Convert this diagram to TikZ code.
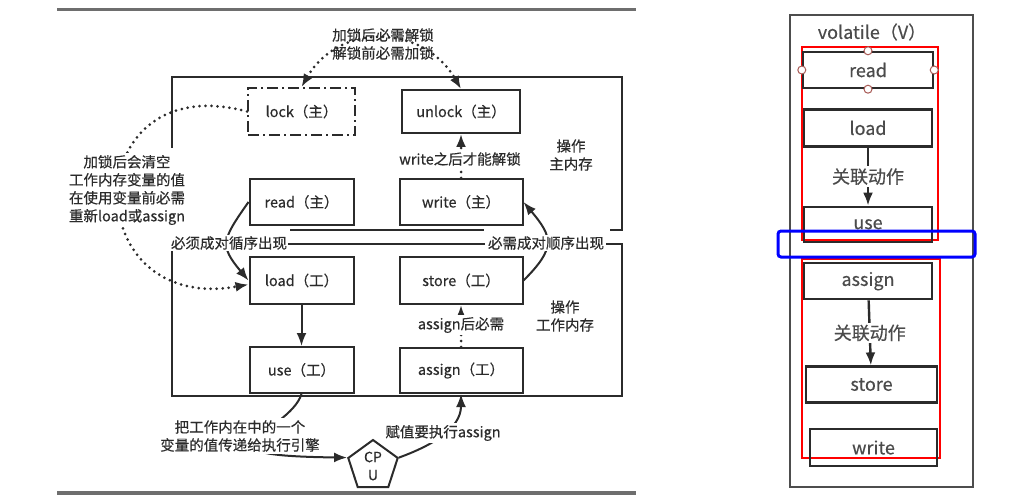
\documentclass[tikz,border=0pt]{standalone}
\usepackage{fontspec}
\setmainfont{Noto Sans CJK SC}[FakeBold=0.4]
\usepackage{xcolor}
\usetikzlibrary{arrows.meta,positioning,shapes.geometric}
\definecolor{ink}{HTML}{2B2B2B}
\definecolor{rule}{HTML}{6E6E6E}
\definecolor{handle}{HTML}{A85A55}

\begin{document}
\begin{tikzpicture}[
  x=1pt, y=1pt,
  font=\fontsize{14.5}{18}\selectfont, >={Latex[length=13pt,width=10pt]},
  box/.style={draw=ink, line width=2pt, text=ink, inner sep=0pt, minimum height=46pt},
  lcol/.style={box, minimum width=104pt},
  rcol/.style={box, minimum width=123pt},
  lbl/.style={fill=white, text=ink, inner sep=2pt, align=center},
  link/.style={draw=ink, line width=2pt},
  dots/.style={draw=ink, line width=3pt, line cap=round, dash pattern=on 0pt off 6pt},
  vbox/.style={draw=ink, line width=2.4pt, text=ink!85, inner sep=0pt, minimum width=128pt, minimum height=36pt, font=\fontsize{18}{22}\selectfont},
]
\useasboundingbox (0,0) rectangle (1035,496);

% left: page rules and the two memory frames
\draw[rule, line width=3pt] (57,486) -- (636,486);
\draw[rule, line width=4pt] (57,3) -- (636,3);
\draw[link] (172,348) -- (172,419) -- (622,419) -- (622,266) -- (610,266);
\draw[link] (290,266) -- (484,266);
\draw[link] (172,246) -- (172,100) -- (622,100) -- (622,252) -- (606,252);
\draw[link] (288,252) -- (485,252);

% operations
\node[lcol, dash pattern=on 11pt off 4pt on 2pt off 4pt, minimum width=107pt, minimum height=47pt] (lock) at (301.5,384.5) {lock（主）};
\node[rcol, minimum width=118pt, minimum height=43pt, right=45pt of lock] (unlock) {unlock（主）};
\node[lcol, below=42pt of lock] (read) {read（主）};
\node[rcol, below=44pt of unlock] (write) {write（主）};
\node[lcol, minimum height=47pt, below=30pt of read] (load) {load（工）};
\node[rcol, minimum height=47pt, below=30pt of write] (store) {store（工）};
\node[lcol, below=41pt of load] (use) {use（工）};
\node[rcol, minimum height=45pt, below=42pt of store] (assign) {assign（工）};
\node[draw=ink, line width=2pt, regular polygon, regular polygon sides=5, minimum size=52pt, inner sep=0pt, align=center, text=ink, font=\fontsize{14}{18}\selectfont] (cpu) at (373,30) {CP\\U};

\draw[dots, <->] (lock.north) to[out=60, in=120, looseness=1.2] (unlock.north);
\draw[dots, ->] (lock.west) to[out=165, in=190, looseness=2.6] ([yshift=-4pt]load.west);
\draw[link, ->] (read.west) to[out=235, in=130, looseness=1.5] (load.west);
\draw[link, ->] (store.east) to[out=45, in=-50, looseness=1.5] (write.east);
\draw[dots, ->] (write.north) -- (unlock.south);
\draw[dots, ->] (assign.north) -- (store.south);
\draw[link, ->] (load) -- (use);
\draw[link, ->] (use.south) .. controls +(-12,-39) and +(-168,2) .. (cpu.corner 2);
\draw[link, ->] (cpu.corner 5) to[out=20, in=-90] (assign.south);

\node[lbl, fill=none] (lockmsg) at (383,452) {加锁后必需解锁\\解锁前必需加锁};
\node[lbl] (clearmsg) at (127,306) {加锁后会清空\\工作内存变量的值\\在使用变量前必需\\重新load或assign};
\node[lbl] (wmsg) at (460,337) {write之后才能解锁};
\node[lbl] (amsg) at (461,171) {assign后必需};
\node[lbl, fill=none] (mainop) at (571,341) {操作\\主内存};
\node[lbl, fill=none] (workop) at (565,180) {操作\\工作内存};
\node[lbl, inner sep=1pt] (pairL) at (229,253) {必须成对循序出现};
\node[lbl, inner sep=1pt] (pairR) at (546,253) {必需成对顺序出现};
\node[lbl] (usemsg) at (240,60) {把工作内在中的一个\\变量的值传递给执行引擎};
\node[lbl] (cpumsg) at (443,63) {赋值要执行assign};

% right: volatile
\draw[draw=rule!70!black, line width=2.5pt] (790,481) rectangle (973,9);
\node[text=ink!85, font=\fontsize{18}{22}\selectfont] (vtitle) at (872,464) {volatile（V）};
\draw[red, line width=1.3pt] (802,449) rectangle (938,256);
\draw[red, line width=1.3pt] (802,237) rectangle (940,38);

\node[vbox, minimum width=130pt] (vread) at (868,426) {read};
\node[vbox, minimum height=37pt, below=19pt of vread] (vload) {load};
\node[vbox, minimum height=35pt, below=58pt of vload] (vuse) {use};
\node[vbox, below=19pt of vuse] (vassign) {assign};
\node[vbox, minimum width=131pt, below=65pt of vassign, xshift=3.5pt] (vstore) {store};
\node[vbox, minimum width=127pt, minimum height=37pt, below=24pt of vstore, xshift=2pt] (vwrite) {write};

\foreach \side in {north,south,east,west}
  \draw[handle, fill=white, line width=1pt] (vread.\side) circle (4pt);

\draw[link, line width=2.4pt, ->] (vload) -- (vuse) node[lbl, midway, text=ink!85, font=\fontsize{18}{22}\selectfont] (rel1) {关联动作};
\draw[link, line width=2.4pt, ->] (vassign) -- (vstore) node[lbl, midway, text=ink!85, font=\fontsize{18}{22}\selectfont] (rel2) {关联动作};

\draw[blue, line width=3pt, rounded corners=3pt] (778,265) rectangle (975,239);
\end{tikzpicture}
\end{document}
